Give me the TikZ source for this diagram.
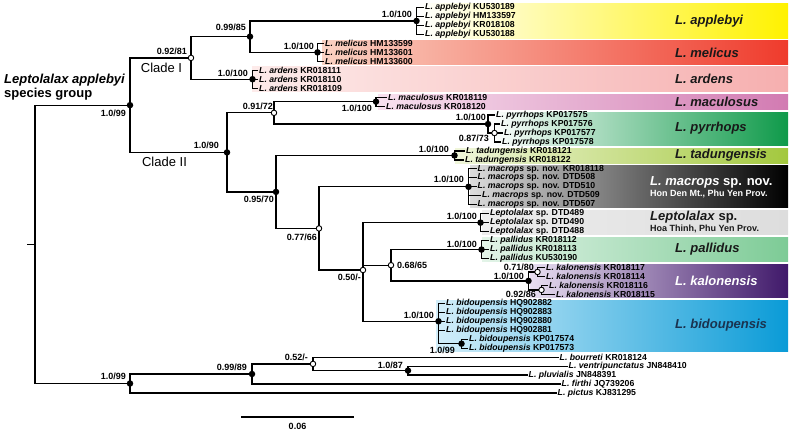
\documentclass[tikz,border=0pt]{standalone}
\usepackage{fontspec}
\setmainfont{Liberation Sans}
\usepackage{xcolor}
\usepackage{tikz}
\usetikzlibrary{calc}
\usetikzlibrary{shapes}
\usetikzlibrary{positioning}
\definecolor{appY}{HTML}{FFF200}
\definecolor{melR}{HTML}{EF3B2C}
\definecolor{melL}{HTML}{FAD2C3}
\definecolor{ardR}{HTML}{F6AFAF}
\definecolor{ardL}{HTML}{FDEBEA}
\definecolor{macR}{HTML}{D27BB2}
\definecolor{macL}{HTML}{F8E1EF}
\definecolor{pyrR}{HTML}{0F9A4A}
\definecolor{tadR}{HTML}{A3C83E}
\definecolor{tadL}{HTML}{F0F6DA}
\definecolor{mcrL}{HTML}{DCDCDC}
\definecolor{lepL}{HTML}{EDEDED}
\definecolor{lepR}{HTML}{DDDDDD}
\definecolor{palR}{HTML}{7DCB96}
\definecolor{palL}{HTML}{E3F4E8}
\definecolor{kalR}{HTML}{40196A}
\definecolor{kalL}{HTML}{E8DEF1}
\definecolor{bidR}{HTML}{0A9BD7}
\definecolor{bidL}{HTML}{D3EEFA}
\definecolor{bidT}{HTML}{1A3350}
\tikzstyle{br} = [line width=1.2pt, line cap=rect]
\tikzstyle{pp} = [circle, fill=black, inner sep=0pt, minimum size=6.5pt]
\tikzstyle{po} = [circle, draw=black, fill=white, line width=0.9pt, inner sep=0pt, minimum size=5.5pt]
\tikzstyle{leaf} = [anchor=west, inner xsep=1.5pt, inner ysep=0.5pt, font=\bfseries\fontsize{8.7}{9}\selectfont]
\tikzstyle{sup} = [anchor=east, inner sep=0pt, font=\bfseries\fontsize{9}{10}\selectfont]
\tikzstyle{tag} = [anchor=west, inner sep=0pt, text=black!90, font=\bfseries\fontsize{13}{14}\selectfont]
\tikzstyle{subtag} = [anchor=west, inner sep=0pt, text=black!90, font=\bfseries\fontsize{9}{10}\selectfont]
\tikzstyle{clade} = [inner sep=0pt, font=\fontsize{13}{14}\selectfont]

\begin{document}
\begin{tikzpicture}[x=1pt, y=-1pt]
\useasboundingbox (0, 0) rectangle (794, 432);

\shade [left color=white, right color=appY] (418, 3.5) rectangle (788, 38);
\shade [left color=melL, right color=melR] (322, 40) rectangle (788, 64.5);
\shade [left color=ardL, right color=ardR] (252, 66.5) rectangle (788, 91);
\shade [left color=macL, right color=macR] (378, 94.5) rectangle (788, 109.5);
\shade [left color=white, right color=pyrR] (490, 112) rectangle (788, 145);
\shade [left color=tadL, right color=tadR] (455, 148) rectangle (788, 163);
\shade [left color=mcrL, right color=black] (470, 165) rectangle (788, 207.5);
\shade [left color=lepL, right color=lepR] (482, 210) rectangle (788, 234);
\shade [left color=palL, right color=palR] (482, 237) rectangle (788, 261.5);
\shade [left color=kalL, right color=kalR] (530, 264) rectangle (788, 297);
\shade [left color=bidL, right color=bidR] (436, 300) rectangle (788, 351.5);

\node [tag] (TAP) at (675, 21) {\textit{L. applebyi}};
\node [tag] (TME) at (675, 52.5) {\textit{L. melicus}};
\node [tag] (TAR) at (675, 79) {\textit{L. ardens}};
\node [tag] (TMA) at (675, 101.5) {\textit{L. maculosus}};
\node [tag] (TPY) at (675, 128.5) {\textit{L. pyrrhops}};
\node [tag] (TTA) at (675, 155) {\textit{L. tadungensis}};
\node [tag, text=white] (TMC) at (650, 182) {\textit{L. macrops} sp. nov.};
\node [subtag, text=white] (TMC2) at (650, 194) {Hon Den Mt., Phu Yen Prov.};
\node [tag] (TLS) at (650, 217) {\textit{Leptolalax} sp.};
\node [subtag] (TLS2) at (650, 229) {Hoa Thinh, Phu Yen Prov.};
\node [tag] (TPA) at (675, 249) {\textit{L. pallidus}};
\node [tag, text=white] (TKA) at (675, 280.5) {\textit{L. kalonensis}};
\node [tag, text=bidT] (TBI) at (675, 325.5) {\textit{L. bidoupensis}};

\node [leaf] (AP1) at (423.5, 7.5) {\textit{L. applebyi} KU530189};
\node [leaf] (AP2) at (423.5, 16.47) {\textit{L. applebyi} HM133597};
\node [leaf] (AP3) at (423.5, 25.43) {\textit{L. applebyi} KR018108};
\node [leaf] (AP4) at (423.5, 34.4) {\textit{L. applebyi} KU530188};
\node [leaf] (ME1) at (323.5, 43.36) {\textit{L. melicus} HM133599};
\node [leaf] (ME2) at (323.5, 52.33) {\textit{L. melicus} HM133601};
\node [leaf] (ME3) at (323.5, 61.29) {\textit{L. melicus} HM133600};
\node [leaf] (AR1) at (257.5, 70.26) {\textit{L. ardens} KR018111};
\node [leaf] (AR2) at (257.5, 79.22) {\textit{L. ardens} KR018110};
\node [leaf] (AR3) at (257.5, 88.19) {\textit{L. ardens} KR018109};
\node [leaf] (MA1) at (386.5, 97.15) {\textit{L. maculosus} KR018119};
\node [leaf] (MA2) at (384.5, 106.12) {\textit{L. maculosus} KR018120};
\node [leaf] (PY1) at (494.5, 115.08) {\textit{L. pyrrhops} KP017575};
\node [leaf] (PY2) at (499.5, 124.05) {\textit{L. pyrrhops} KP017576};
\node [leaf] (PY3) at (502.5, 133.01) {\textit{L. pyrrhops} KP017577};
\node [leaf] (PY4) at (500.5, 141.98) {\textit{L. pyrrhops} KP017578};
\node [leaf] (TA1) at (464.5, 150.94) {\textit{L. tadungensis} KR018121};
\node [leaf] (TA2) at (463.5, 159.91) {\textit{L. tadungensis} KR018122};
\node [leaf] (MC1) at (476, 168.87) {\textit{L. macrops} sp. nov. KR018118};
\node [leaf] (MC2) at (476, 177.84) {\textit{L. macrops} sp. nov. DTD508};
\node [leaf] (MC3) at (476, 186.8) {\textit{L. macrops} sp. nov. DTD510};
\node [leaf] (MC4) at (480.5, 195.77) {\textit{L. macrops} sp. nov. DTD509};
\node [leaf] (MC5) at (476, 204.73) {\textit{L. macrops} sp. nov. DTD507};
\node [leaf] (LS1) at (488.5, 213.7) {\textit{Leptolalax} sp. DTD489};
\node [leaf] (LS2) at (488.5, 222.66) {\textit{Leptolalax} sp. DTD490};
\node [leaf] (LS3) at (488.5, 231.63) {\textit{Leptolalax} sp. DTD488};
\node [leaf] (PA1) at (488.5, 240.59) {\textit{L. pallidus} KR018112};
\node [leaf] (PA2) at (488.5, 249.56) {\textit{L. pallidus} KR018113};
\node [leaf] (PA3) at (488.5, 258.52) {\textit{L. pallidus} KU530190};
\node [leaf] (KA1) at (544.5, 267.49) {\textit{L. kalonensis} KR018117};
\node [leaf] (KA2) at (544.5, 276.45) {\textit{L. kalonensis} KR018114};
\node [leaf] (KA3) at (547.5, 285.42) {\textit{L. kalonensis} KR018116};
\node [leaf] (KA4) at (554.5, 294.38) {\textit{L. kalonensis} KR018115};
\node [leaf] (BI1) at (444.5, 303.35) {\textit{L. bidoupensis} HQ902882};
\node [leaf] (BI2) at (444.5, 312.31) {\textit{L. bidoupensis} HQ902883};
\node [leaf] (BI3) at (444.5, 321.28) {\textit{L. bidoupensis} HQ902880};
\node [leaf] (BI4) at (444.5, 330.24) {\textit{L. bidoupensis} HQ902881};
\node [leaf] (BI5) at (467.5, 339.21) {\textit{L. bidoupensis} KP017574};
\node [leaf] (BI6) at (467.5, 348.17) {\textit{L. bidoupensis} KP017573};
\node [leaf] (BO) at (558, 357.14) {\textit{L. bourreti} KR018124};
\node [leaf] (VE) at (567, 366.1) {\textit{L. ventripunctatus} JN848410};
\node [leaf] (PL) at (527, 375.07) {\textit{L. pluvialis} JN848391};
\node [leaf] (FI) at (560, 384.03) {\textit{L. firthi} JQ739206};
\node [leaf] (PI) at (556, 393) {\textit{L. pictus} KJ831295};

\coordinate (rstub) at (28, 244.3);
\coordinate (root) at (35, 244.3);
\node [pp] (N99) at (130, 105.15) {};
\node [po] (CI) at (191, 57.9) {};
\node [pp] (N85) at (250, 36.6) {};
\node [pp] (NAP) at (416.5, 20.95) {};
\node [pp] (NME) at (317.5, 52.33) {};
\node [pp] (NAR) at (252.5, 79.22) {};
\node [pp] (CII) at (227, 152.4) {};
\node [po] (N72) at (274, 112.84) {};
\node [pp] (NMA) at (376, 101.63) {};
\node [pp] (NPY) at (488, 124.05) {};
\node [po] (N73) at (494.5, 133.01) {};
\node [pp] (N70) at (276, 191.9) {};
\node [pp] (NTA) at (454.5, 155.43) {};
\node [po] (N66) at (319, 228.4) {};
\node [pp] (NMC) at (468.5, 186.8) {};
\node [po] (N50) at (363, 270) {};
\node [pp] (NLS) at (480.5, 222.66) {};
\node [po] (N65) at (391, 265.2) {};
\node [pp] (NPA) at (481.5, 249.56) {};
\node [pp] (NKA) at (528.5, 280.9) {};
\node [po] (N80) at (537.5, 271.97) {};
\node [po] (N86) at (541.5, 289.9) {};
\node [pp] (NBI) at (438.5, 321.28) {};
\node [pp] (NB99) at (461.5, 343.69) {};
\node [pp] (NOG) at (130, 383.5) {};
\node [pp] (N89) at (252, 374) {};
\node [po] (N52) at (313, 363.9) {};
\node [pp] (N87) at (408, 370.6) {};

\draw [br] (rstub) -- (root);
\draw [br] (root) |- (N99);
\draw [br] (root) |- (NOG);
\draw [br] (N99.center) |- (CI);
\draw [br] (N99.center) |- (CII);
\draw [br] (CI) |- (N85);
\draw [br] (CI) |- (NAR);
\draw [br] (N85.center) |- (NAP);
\draw [br] (N85.center) |- (NME);
\draw [br] (NAP.center) |- (AP1);
\draw [br] (NAP.center) |- (AP2);
\draw [br] (NAP.center) |- (AP3);
\draw [br] (NAP.center) |- (AP4);
\draw [br] (NME.center) |- (ME1);
\draw [br] (NME.center) |- (ME2);
\draw [br] (NME.center) |- (ME3);
\draw [br] (NAR.center) |- (AR1);
\draw [br] (NAR.center) |- (AR2);
\draw [br] (NAR.center) |- (AR3);
\draw [br] (CII.center) |- (N72);
\draw [br] (CII.center) |- (N70);
\draw [br] (N72) |- (NMA);
\draw [br] (N72) |- (NPY);
\draw [br] (NMA.center) |- (MA1);
\draw [br] (NMA.center) |- (MA2);
\draw [br] (NPY.center) |- (PY1);
\draw [br] (NPY.center) |- (N73);
\draw [br] (N73) |- (PY2);
\draw [br] (N73) -- (PY3);
\draw [br] (N73) |- (PY4);
\draw [br] (N70.center) |- (NTA);
\draw [br] (N70.center) |- (N66);
\draw [br] (NTA.center) |- (TA1);
\draw [br] (NTA.center) |- (TA2);
\draw [br] (N66) |- (NMC);
\draw [br] (N66) |- (N50);
\draw [br] (NMC.center) |- (MC1);
\draw [br] (NMC.center) |- (MC2);
\draw [br] (NMC.center) |- (MC3);
\draw [br] (NMC.center) |- (MC4);
\draw [br] (NMC.center) |- (MC5);
\draw [br] (N50) |- (NLS);
\draw [br] (N50) |- (N65);
\draw [br] (N50) |- (NBI);
\draw [br] (NLS.center) |- (LS1);
\draw [br] (NLS.center) |- (LS2);
\draw [br] (NLS.center) |- (LS3);
\draw [br] (N65) |- (NPA);
\draw [br] (N65) |- (NKA);
\draw [br] (NPA.center) |- (PA1);
\draw [br] (NPA.center) |- (PA2);
\draw [br] (NPA.center) |- (PA3);
\draw [br] (NKA.center) |- (N80);
\draw [br] (NKA.center) |- (N86);
\draw [br] (N80) |- (KA1);
\draw [br] (N80) |- (KA2);
\draw [br] (N86) |- (KA3);
\draw [br] (N86) |- (KA4);
\draw [br] (NBI.center) |- (BI1);
\draw [br] (NBI.center) |- (BI2);
\draw [br] (NBI.center) |- (BI3);
\draw [br] (NBI.center) |- (BI4);
\draw [br] (NBI.center) |- (NB99);
\draw [br] (NB99.center) |- (BI5);
\draw [br] (NB99.center) |- (BI6);
\draw [br] (NOG.center) |- (N89);
\draw [br] (NOG.center) |- (PI);
\draw [br] (N89.center) |- (N52);
\draw [br] (N89.center) |- (FI);
\draw [br] (N52) |- (BO);
\draw [br] (N52) |- (N87);
\draw [br] (N87.center) |- (VE);
\draw [br] (N87.center) |- (PL);

\node [sup] (S99) at (126, 113) {1.0/99};
\node [sup] (S81) at (187, 51) {0.92/81};
\node [sup] (S90) at (219, 145) {1.0/90};
\node [sup] (S85) at (246, 27) {0.99/85};
\node [sup] (SAP) at (412, 14) {1.0/100};
\node [sup] (SME) at (314, 46) {1.0/100};
\node [sup] (SAR) at (248, 73) {1.0/100};
\node [sup] (S72) at (273, 106) {0.91/72};
\node [sup] (SMA) at (372, 108) {1.0/100};
\node [sup] (SPY) at (486, 117) {1.0/100};
\node [sup] (S73) at (489, 138) {0.87/73};
\node [sup] (STA) at (449, 149) {1.0/100};
\node [sup] (S70) at (274, 199) {0.95/70};
\node [sup] (S66) at (317, 237) {0.77/66};
\node [sup] (SMC) at (464, 179.5) {1.0/100};
\node [sup] (S50) at (361, 277) {0.50/-};
\node [sup] (SLS) at (477, 216.5) {1.0/100};
\node [sup, anchor=west] (S65) at (397, 265) {0.68/65};
\node [sup] (SPA) at (477, 244) {1.0/100};
\node [sup] (S80) at (534, 267) {0.71/80};
\node [sup] (SKA) at (524, 276) {1.0/100};
\node [sup] (S86) at (536, 294.5) {0.92/86};
\node [sup] (SBI) at (434, 315) {1.0/100};
\node [sup] (SB99) at (455, 350) {1.0/99};
\node [sup] (SOG) at (126, 376) {1.0/99};
\node [sup] (S89) at (247, 367) {0.99/89};
\node [sup] (S52) at (308, 357) {0.52/-};
\node [sup] (S87) at (403, 365) {1.0/87};

\node [clade] (CL1) at (161.5, 68) {Clade I};
\node [clade] (CL2) at (164.5, 162) {Clade II};
\node [anchor=west, align=left, inner sep=0pt, font=\bfseries\fontsize{13}{14}\selectfont] (GRP) at (4, 87) {\textit{Leptolalax applebyi}\\species group};

\coordinate (SB1) at (242, 417);
\coordinate (SB2) at (353, 417);
\draw [br] (SB1) -- (SB2);
\node [sup, anchor=center] (SBL) at (297.5, 426) {0.06};
\end{tikzpicture}
\end{document}
